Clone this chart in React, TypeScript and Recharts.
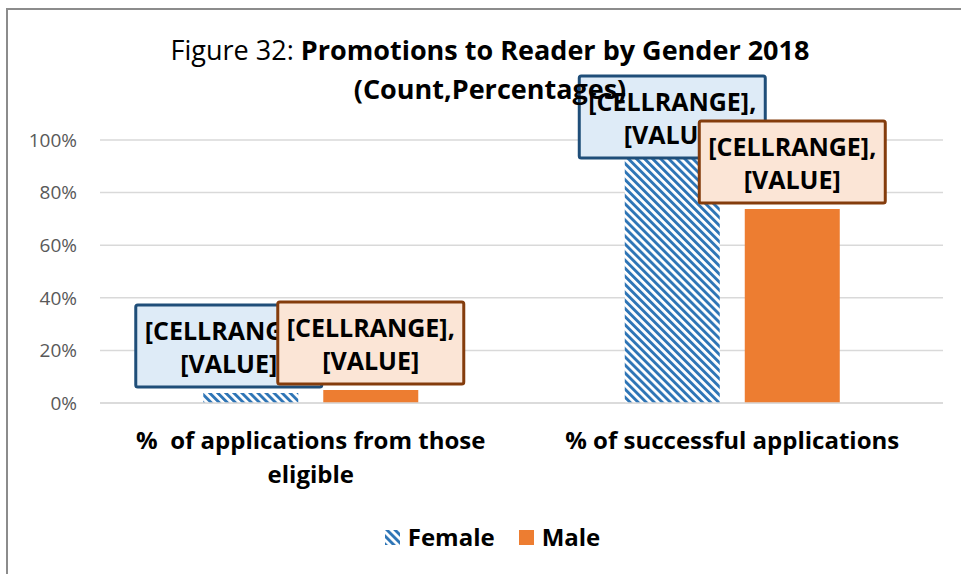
import { BarChart, Bar, XAxis, YAxis, CartesianGrid, Legend, LabelList } from 'recharts';

const CATEGORIES = ['%  of applications from those eligible', '% of successful applications'];
const FEMALE = [3.8, 96];
const MALE = [4.9, 73.8];
const Y_TICKS = [0, 20, 40, 60, 80, 100];

const FONT = '"Open Sans", Lato, sans-serif';
const BLUE = '#2e75b6';
const ORANGE = '#ed7d31';

const data = CATEGORIES.map((name, i) => ({ name, Female: FEMALE[i], Male: MALE[i] }));

const LABEL_STYLE = {
  Female: { fill: '#deebf7', stroke: '#1f4e79' },
  Male: { fill: '#fbe5d6', stroke: '#843c0c' },
} as const;

function makeLabel(series: 'Female' | 'Male') {
  return (props: any) => {
    const { x, y, width, index } = props;
    const w = 186;
    const h = 82;
    const shift = series === 'Female' && index === 0 ? -22 : 0;
    const cx = Number(x) + Number(width) / 2 + shift;
    const top = Math.max(Number(y) - 6 - h, 76);
    const st = LABEL_STYLE[series];
    return (
      <g>
        <rect x={cx - w / 2} y={top} width={w} height={h} fill={st.fill} stroke={st.stroke} strokeWidth={3} rx={2} />
        <text x={cx} y={top + 25} textAnchor="middle" dominantBaseline="central"
          fontFamily={FONT} fontWeight={700} fontSize={25} fill="#000">[CELLRANGE],</text>
        <text x={cx} y={top + 58} textAnchor="middle" dominantBaseline="central"
          fontFamily={FONT} fontWeight={700} fontSize={25} fill="#000">[VALUE]</text>
      </g>
    );
  };
}

// wrap category names the way Excel does in the reference (about 30 chars per line)
function wrap(s: string, max = 30): string[] {
  const lines: string[] = [];
  let cur = '';
  s.split(' ').forEach(w => {
    const next = cur === '' ? w : `${cur} ${w}`;
    if (next.length > max && cur.trim() !== '') {
      lines.push(cur);
      cur = w;
    } else {
      cur = next;
    }
  });
  if (cur) lines.push(cur);
  return lines;
}

function CategoryTick(props: any) {
  const { x, y, payload } = props;
  const lines = wrap(String(payload.value));
  return (
    <text x={x} y={y} textAnchor="middle" fontFamily={FONT} fontWeight={700} fontSize={24} fill="#000"
      style={{ whiteSpace: 'pre' }}>
      {lines.map((l, i) => (
        <tspan key={i} x={x} y={y + 38 + i * 34}>{l}</tspan>
      ))}
    </text>
  );
}

function StripeDefs({ id }: { id: string }) {
  return (
    <defs>
      <pattern id={id} width="5.7" height="5.7" patternUnits="userSpaceOnUse" patternTransform="rotate(-45)">
        <rect width="5.7" height="5.7" fill="#fff" />
        <rect width="2.9" height="5.7" fill={BLUE} />
      </pattern>
    </defs>
  );
}

function LegendContent() {
  const items = [
    { name: 'Female', fill: 'url(#stripeLegend)' },
    { name: 'Male', fill: ORANGE },
  ];
  return (
    <div style={{ height: 54, display: 'flex', justifyContent: 'center', alignItems: 'flex-start', paddingTop: 2, paddingLeft: 42 }}>
      {items.map(it => (
        <div key={it.name} style={{ display: 'flex', alignItems: 'center', margin: '0 12px' }}>
          <svg width={15} height={15} style={{ marginRight: 8 }}>
            <StripeDefs id="stripeLegend" />
            <rect width={15} height={15} fill={it.fill} />
          </svg>
          <span style={{ fontFamily: FONT, fontWeight: 700, fontSize: 24, lineHeight: '30px', color: '#000' }}>{it.name}</span>
        </div>
      ))}
    </div>
  );
}

export default function App() {
  return (
    <div style={{ position: 'absolute', left: 0, top: 0, width: 961, height: 574, background: '#fff' }}>
      <div style={{ position: 'absolute', left: 6, top: 8, right: 0, bottom: 0, borderTop: '2px solid #8c8c8c', borderLeft: '2px solid #8c8c8c' }} />
      <BarChart width={961} height={574} data={data} margin={{ top: 140, right: 18, bottom: 0, left: 0 }}
        barCategoryGap="24.5%" barGap={25}>
        <StripeDefs id="stripeBar" />
        <CartesianGrid vertical={false} stroke="#d9d9d9" strokeWidth={1.5} />
        <XAxis dataKey="name" height={117} axisLine={{ stroke: '#d9d9d9', strokeWidth: 1.5 }} tickLine={false}
          tick={<CategoryTick />} interval={0} />
        <YAxis domain={[0, 100]} ticks={Y_TICKS} width={100} axisLine={false} tickLine={false} tickMargin={17}
          tickFormatter={v => `${v}%`} tick={{ fill: '#595959', fontSize: 19, fontFamily: FONT }} />
        <Legend verticalAlign="bottom" height={54} content={<LegendContent />} />
        <Bar dataKey="Female" fill="url(#stripeBar)" isAnimationActive={false}>
          <LabelList dataKey="Female" content={makeLabel('Female')} />
        </Bar>
        <Bar dataKey="Male" fill={ORANGE} isAnimationActive={false}>
          <LabelList dataKey="Male" content={makeLabel('Male')} />
        </Bar>
      </BarChart>
      <div style={{ position: 'absolute', left: 140, width: 700, top: 30, textAlign: 'center', fontFamily: FONT, fontSize: 27, lineHeight: '39px', color: '#000' }}>
        Figure 32: <b>Promotions to Reader by Gender 2018</b>
        <br />
        <b>(Count,Percentages)</b>
      </div>
    </div>
  );
}
